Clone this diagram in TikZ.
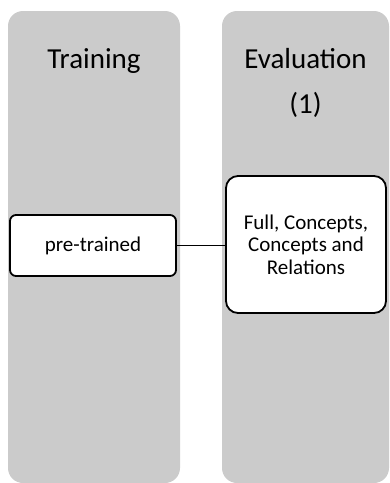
\documentclass[tikz,border=0pt]{standalone}
\usepackage{fontspec}
\setmainfont{Carlito}
\definecolor{lanegray}{RGB}{203,203,203}
\begin{document}
\begin{tikzpicture}[x=1pt,y=-1pt,
  lane/.style={fill=lanegray,draw=none,rounded corners=15pt},
  lanetitle/.style={anchor=base,font=\fontsize{29}{45}\selectfont},
  stepbox/.style={draw=black,line width=1.8pt,fill=white,align=center,
    font=\fontsize{21}{22.3}\selectfont},
  link/.style={draw=black,line width=1.8pt}]
  \useasboundingbox (0,0) rectangle (390,483);
  % swim lanes
  \path[lane] (8,11) rectangle (180,483);
  \path[lane] (222,11) rectangle (389,483);
  % lane headings
  \node[lanetitle] (ttrain) at (94,68) {Training};
  \node[lanetitle] (teval) at (305.5,68) {Evaluation};
  \node[lanetitle] (tevalnum) at (305.5,113) {(1)};
  % process boxes
  \node[stepbox,rounded corners=6pt,minimum width=166pt,minimum height=61pt]
    (pre) at (93,245.5) {pre-trained};
  \node[stepbox,rounded corners=12pt,minimum width=160pt,minimum height=137pt]
    (full) at (306,244.5) {Full, Concepts,\\Concepts and\\Relations};
  \draw[link] (pre.east) -- (pre.east -| full.west);
\end{tikzpicture}
\end{document}
